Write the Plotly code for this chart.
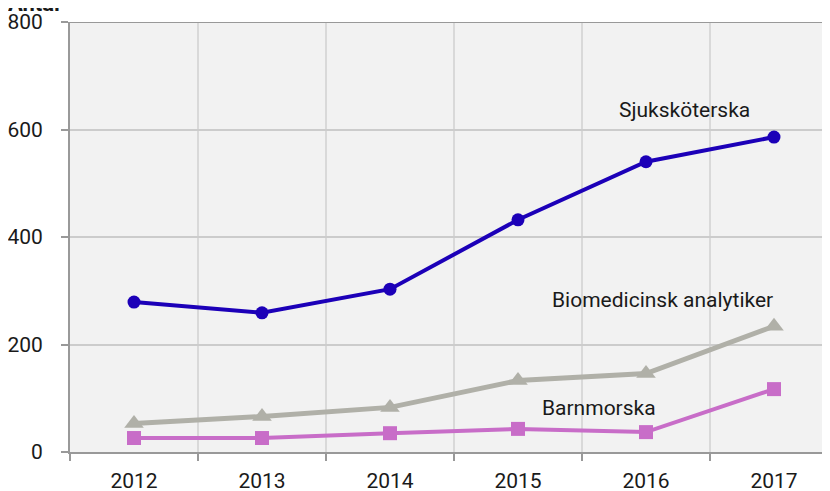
import plotly.graph_objects as go

years = ["2012", "2013", "2014", "2015", "2016", "2017"]
sjukskoterska = [279, 259, 303, 432, 540, 586]
biomedicinsk = [53, 66, 83, 133, 146, 234]
barnmorska = [26, 26, 35, 43, 37, 117]
y_ticks = [0, 200, 400, 600, 800]

fig = go.Figure()
fig.add_trace(go.Scatter(x=years, y=barnmorska, mode="lines+markers",
                         line=dict(color="#c86dc8", width=4),
                         marker=dict(symbol="square", size=14, color="#c86dc8")))
fig.add_trace(go.Scatter(x=years, y=biomedicinsk, mode="lines+markers",
                         line=dict(color="#b0b0a8", width=5),
                         marker=dict(symbol="triangle-up", size=17, color="#b0b0a8")))
fig.add_trace(go.Scatter(x=years, y=sjukskoterska, mode="lines+markers",
                         line=dict(color="#1c00b8", width=4),
                         marker=dict(symbol="circle", size=13, color="#1c00b8")))

font = dict(family="Roboto", size=21, color="#1a1a1a")
for text, x, y in [("Sjuksköterska", 4.3, 636),
                   ("Biomedicinsk analytiker", 4.13, 283),
                   ("Barnmorska", 3.63, 82)]:
    fig.add_annotation(x=x, y=y, xref="x", yref="y", text=text,
                       showarrow=False, font=font)

fig.add_annotation(x=0, y=1, xref="paper", yref="paper", text="<b>Antal</b>",
                   showarrow=False, xanchor="left", yanchor="bottom",
                   xshift=-64, yshift=4,
                   font=dict(family="Roboto", size=22, color="#1a1a1a"))

fig.update_layout(
    width=830, height=491,
    margin=dict(l=62, r=0, t=14, b=47),
    paper_bgcolor="white", plot_bgcolor="#f2f2f2",
    showlegend=False,
    font=font,
    xaxis=dict(type="category", range=[-0.5, 5.5], tickson="boundaries",
               showgrid=True, gridcolor="#d9d9d9", gridwidth=2,
               showline=True, linecolor="#999999", linewidth=2, mirror=False,
               ticks="outside", ticklen=7, tickcolor="#999999", tickwidth=2,
               ticklabelstandoff=9, tickfont=font),
    yaxis=dict(range=[0, 800], tickvals=y_ticks,
               showgrid=True, gridcolor="#cccccc", gridwidth=2,
               showline=True, linecolor="#999999", linewidth=2,
               ticks="outside", ticklen=7, tickcolor="#999999", tickwidth=2,
               ticklabelstandoff=14, zeroline=False, tickfont=font),
)
fig.add_shape(type="line", xref="paper", yref="y", x0=0, x1=1, y0=800, y1=800,
              line=dict(color="#999999", width=2))

fig.write_html("out.html")
